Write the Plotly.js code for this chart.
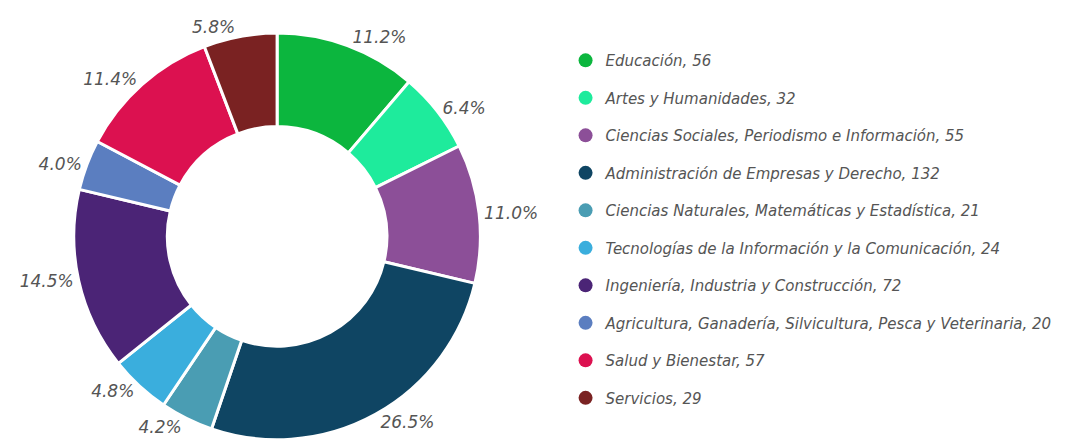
<!DOCTYPE html>
<html><head><meta charset="utf-8">
<script src="https://cdn.plot.ly/plotly-3.0.1.min.js"></script>
<style>html,body{margin:0;padding:0;background:#fff}#chart{width:1074px;height:441px}</style>
</head><body><div id="chart"></div>
<script>
const categories = [
  "Educación",
  "Artes y Humanidades",
  "Ciencias Sociales, Periodismo e Información",
  "Administración de Empresas y Derecho",
  "Ciencias Naturales, Matemáticas y Estadística",
  "Tecnologías de la Información y la Comunicación",
  "Ingeniería, Industria y Construcción",
  "Agricultura, Ganadería, Silvicultura, Pesca y Veterinaria",
  "Salud y Bienestar",
  "Servicios"
];
const values = [56, 32, 55, 132, 21, 24, 72, 20, 57, 29];
const colors = ["#0cb63e", "#1eeb9c", "#8c4f98", "#0f4563", "#4a9db3", "#3aaedd", "#4b2476", "#5b7ec0", "#dc1150", "#7a2222"];

const FONT = "DejaVu Sans, Verdana, sans-serif";
const traces = [{
  type: "pie",
  labels: categories,
  values: values,
  sort: false,
  direction: "clockwise",
  rotation: 0,
  hole: 0.54,
  marker: {colors: colors, line: {color: "#ffffff", width: 3}},
  textinfo: "percent",
  texttemplate: "<i>%{percent:.1%}</i>",
  textposition: "outside",
  outsidetextfont: {family: FONT, size: 17, color: "#555555"},
  showlegend: false,
  domain: {x: [0.068, 0.448], y: [0.003, 0.925]}
}];
categories.forEach((c, i) => {
  traces.push({
    type: "scatter", mode: "markers",
    x: [null], y: [null],
    name: "<i>" + c + ", " + values[i] + "</i>",
    legendgroup: "g" + i,
    marker: {color: colors[i], size: 14, symbol: "circle"},
    showlegend: true, hoverinfo: "skip"
  });
});

const layout = {
  width: 1074, height: 441,
  margin: {l: 0, r: 0, t: 0, b: 0},
  paper_bgcolor: "#ffffff", plot_bgcolor: "#ffffff",
  xaxis: {visible: false}, yaxis: {visible: false},
  showlegend: true,
  legend: {
    x: 0.5266, xanchor: "left", y: 0.9, yanchor: "top",
    font: {family: FONT, size: 15, color: "#555555"},
    tracegroupgap: 15, itemwidth: 30,
    bgcolor: "rgba(0,0,0,0)"
  }
};
Plotly.newPlot("chart", traces, layout, {displayModeBar: false, staticPlot: true});
</script></body></html>
